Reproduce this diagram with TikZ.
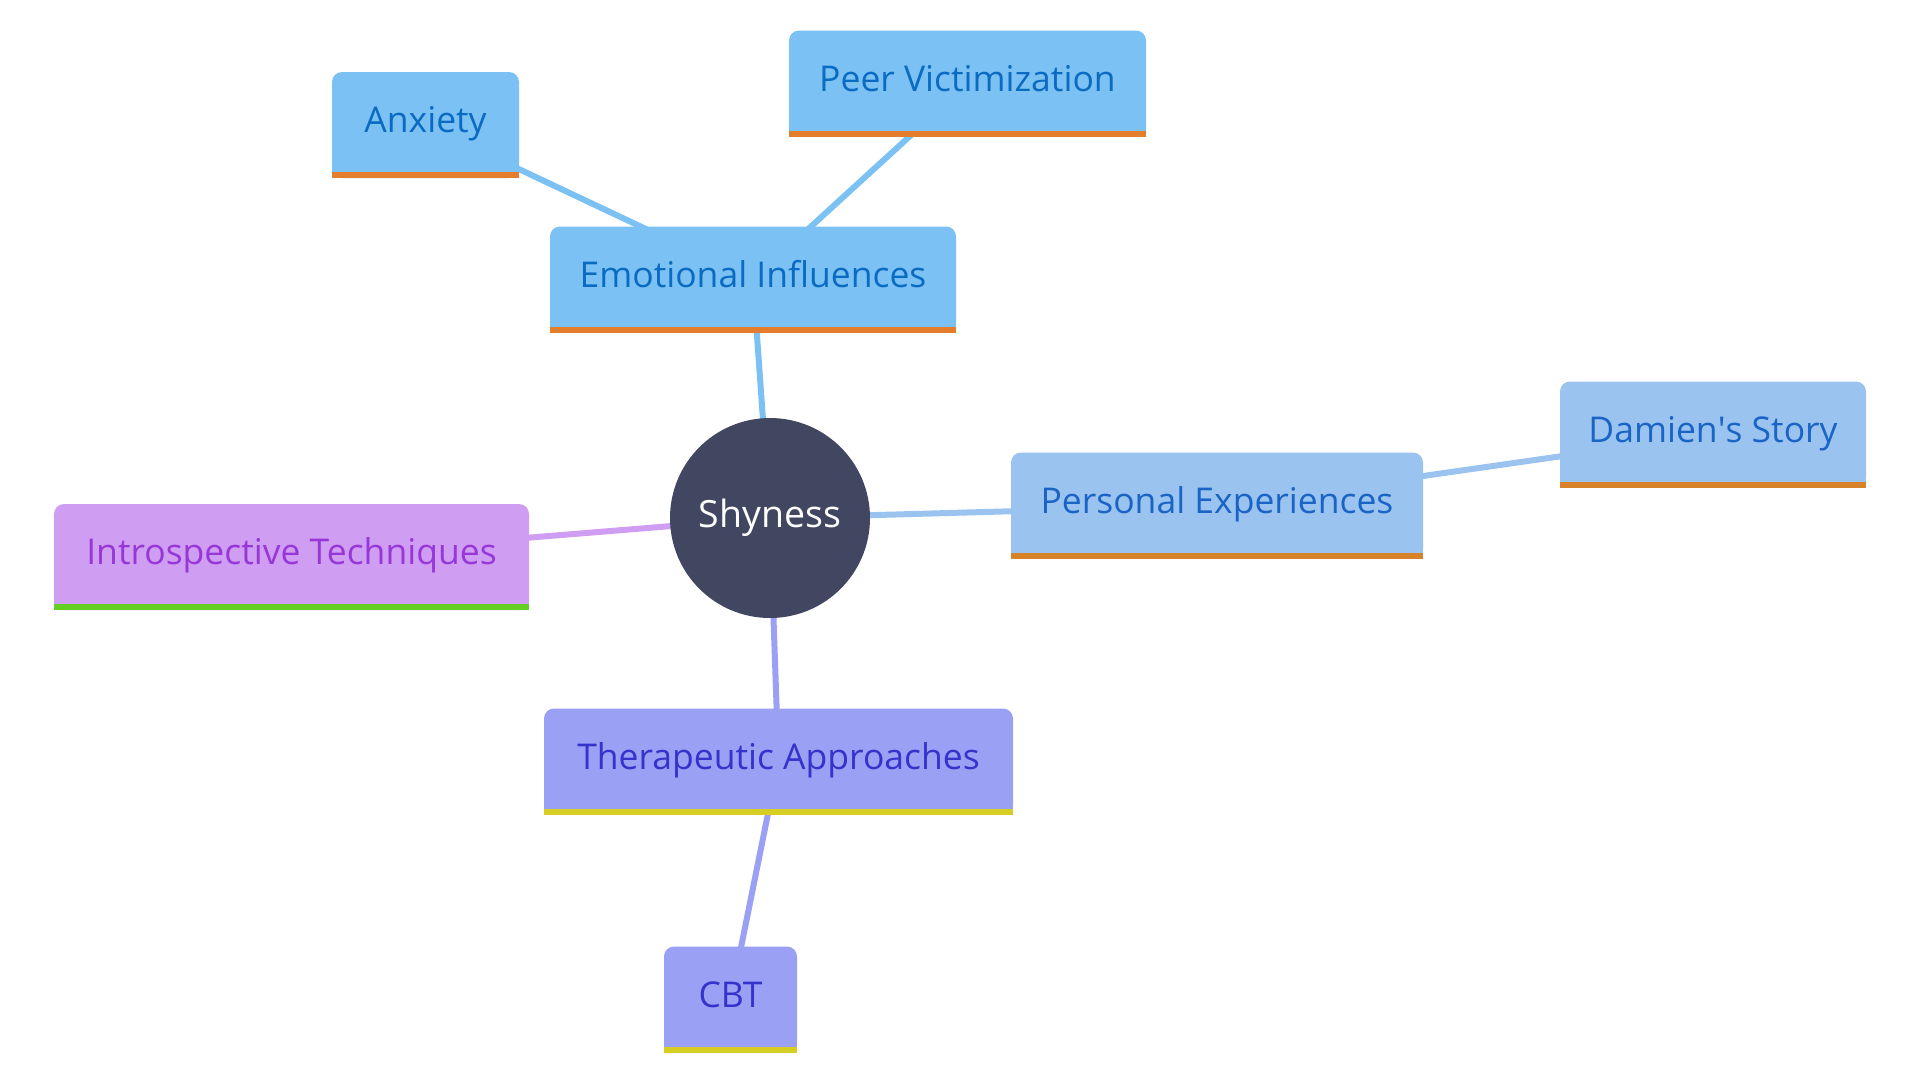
\documentclass[tikz,border=0pt]{standalone}
\usepackage{fontspec}
\setmainfont{Open Sans}
\usetikzlibrary{backgrounds}
\usepackage{xcolor}

\definecolor{emofill}{HTML}{7CC1F3}
\definecolor{emotext}{HTML}{0A6BC2}
\definecolor{emobar}{HTML}{E57E2C}
\definecolor{persfill}{HTML}{9AC3F0}
\definecolor{perstext}{HTML}{1A64C6}
\definecolor{persbar}{HTML}{D8832A}
\definecolor{introfill}{HTML}{CF9DF2}
\definecolor{introtext}{HTML}{9837D8}
\definecolor{introbar}{HTML}{66CF24}
\definecolor{therfill}{HTML}{9AA0F3}
\definecolor{thertext}{HTML}{3434CC}
\definecolor{therbar}{HTML}{D7CE24}
\definecolor{shyfill}{HTML}{414760}

\begin{document}
\begin{tikzpicture}[x=1pt,y=-1pt,
  main node/.style={rectangle, rounded corners=10pt, minimum height=106pt, inner sep=0pt,
    text height=25pt, text depth=10pt, font=\fontsize{35.5}{42}\selectfont},
  emo node/.style={main node, fill=emofill, text=emotext},
  pers node/.style={main node, fill=persfill, text=perstext},
  intro node/.style={main node, fill=introfill, text=introtext},
  ther node/.style={main node, fill=therfill, text=thertext},
  link/.style={line width=6pt}]
  \useasboundingbox (0,0) rectangle (1920,1080);
  % centre
  \node [circle, fill=shyfill, text=white, minimum size=200pt, font=\fontsize{37.5}{44}\selectfont] (shy) at (770,518) {Shyness};
  % branches
  \node [emo node, minimum width=406pt] (emo) at (753,279.5) {Emotional Influences};
  \node [emo node, minimum width=187pt] (anx) at (425.5,125) {Anxiety};
  \node [emo node, minimum width=357pt] (peer) at (967.5,83.5) {Peer Victimization};
  \node [pers node, minimum width=412pt] (pers) at (1217,505.5) {Personal Experiences};
  \node [pers node, minimum width=306pt] (dam) at (1713,434.5) {Damien\textquotesingle s Story};
  \node [intro node, minimum width=475pt] (intro) at (291.5,557) {Introspective Techniques};
  \node [ther node, minimum width=469pt] (ther) at (778.5,761.5) {Therapeutic Approaches};
  \node [ther node, minimum width=133pt] (cbt) at (730.5,999.5) {CBT};

  % square bottoms and coloured bars
  \foreach \n/\c/\b in {emo/emofill/emobar, anx/emofill/emobar, peer/emofill/emobar,
      pers/persfill/persbar, dam/persfill/persbar, intro/introfill/introbar,
      ther/therfill/therbar, cbt/therfill/therbar} {
    \fill [\c] (\n.south west) rectangle ([yshift=20pt]\n.south east);
    \fill [\b] (\n.south west) rectangle ([yshift=6pt]\n.south east);
  }

  \begin{pgfonlayer}{background}
  \path [link]
    (shy.center) edge [emofill] (emo.center)
    (emo.center) edge [emofill] (anx.center)
    (emo.center) edge [emofill] (peer.center)
    (shy.center) edge [persfill] (pers.center)
    (pers.center) edge [persfill] (dam.center)
    (shy.center) edge [introfill] (intro.center)
    (shy.center) edge [therfill] (ther.center)
    (ther.center) edge [therfill] (cbt.center);
  \end{pgfonlayer}
\end{tikzpicture}
\end{document}
